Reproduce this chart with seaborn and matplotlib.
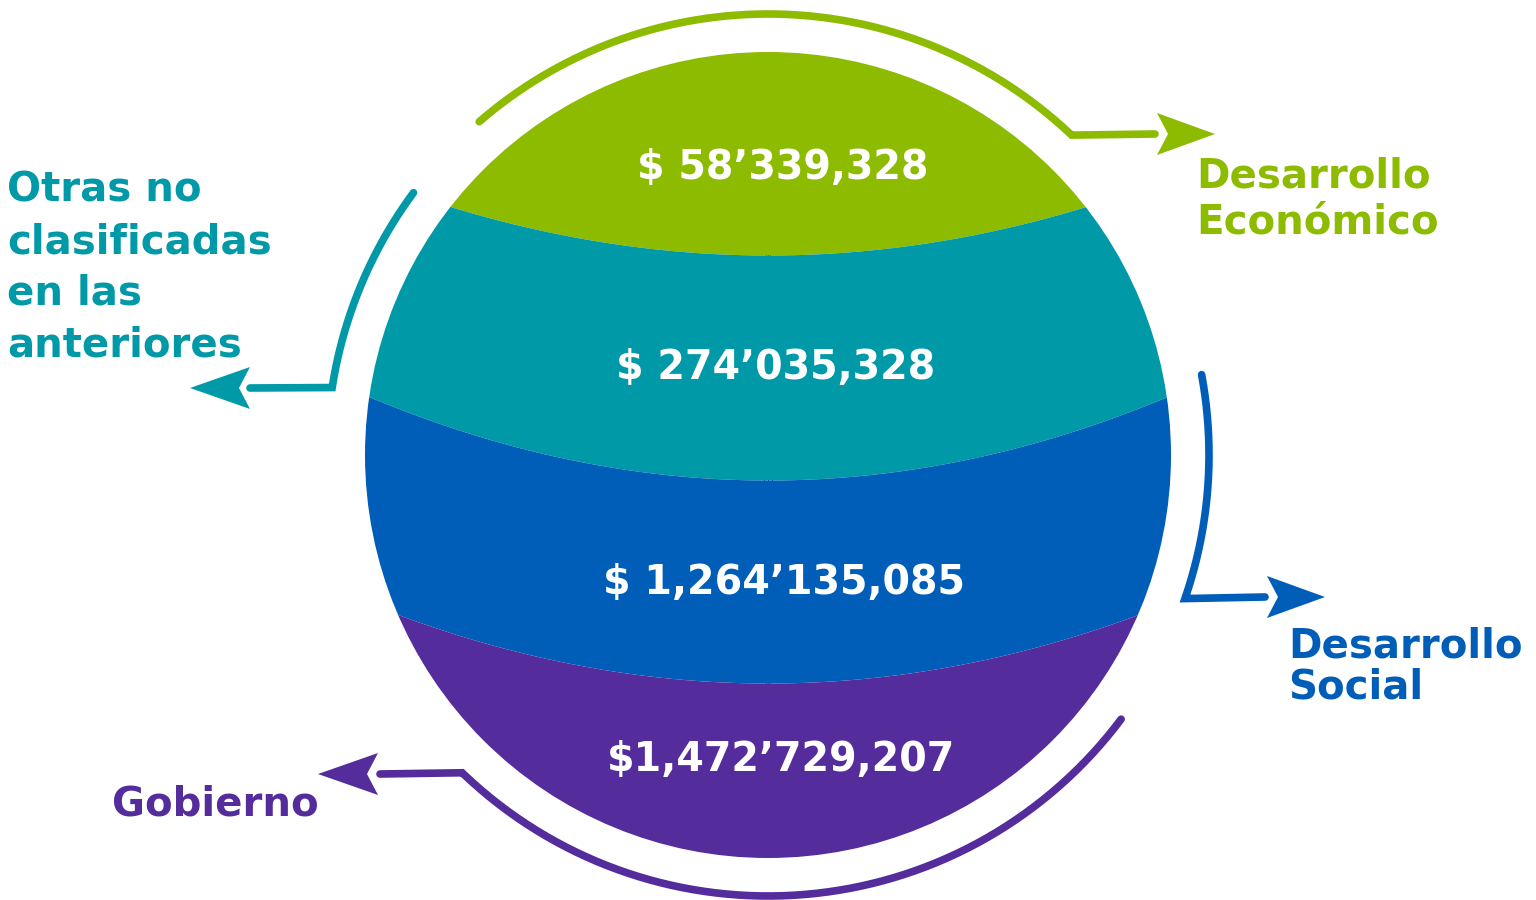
import numpy as np
import matplotlib.pyplot as plt
import seaborn as sns
from matplotlib.patches import Circle

# data (top band first)
categories = ["Desarrollo\nEconómico", "Otras no\nclasificadas\nen las\nanteriores",
              "Desarrollo\nSocial", "Gobierno"]
amounts = ["$ 58’339,328", "$ 274’035,328", "$ 1,264’135,085", "$1,472’729,207"]
band_colors = ["#8dbb00", "#0099a8", "#005eb8", "#542c9c"]

sns.set_theme(style="white")
plt.rcParams['font.family'] = ['DejaVu Sans']

W, H = 1536, 900
CX, CY, R = 768, 455, 403      # globe
RA = 441                      # outer arrow arcs

fig = plt.figure(figsize=(W / 100, H / 100), dpi=100)
ax = fig.add_axes([0, 0, 1, 1])
ax.set_xlim(0, W)
ax.set_ylim(H, 0)
ax.axis("off")

# band boundaries: (middle y, curvature)
bounds = [(255, 0.00048), (480, 0.000524), (683, 0.0005)]
xs = np.linspace(CX - R - 5, CX + R + 5, 600)
curves = [np.full_like(xs, CY - R - 10)]
curves += [m - k * (xs - CX) ** 2 for m, k in bounds]
curves += [np.full_like(xs, CY + R + 10)]

clip = Circle((CX, CY), R, transform=ax.transData)
for i, col in enumerate(band_colors):
    poly = ax.fill_between(xs, curves[i], curves[i + 1], color=col, lw=0)
    poly.set_clip_path(clip)

# value labels
val_pos = [(783, 168), (776, 368), (784, 583), (781, 760)]
for txt, (x, y) in zip(amounts, val_pos):
    ax.text(x, y, txt, color="white", fontsize=28.5, fontweight="bold",
            ha="center", va="center")


def arc(a0, a1):
    t = np.radians(np.linspace(a0, a1, 200))
    return CX + RA * np.cos(t), CY - RA * np.sin(t)


def arrow_head(back, tip, y, col, half=21, notch=11):
    d = np.sign(tip - back)
    ax.fill([back, tip, back, back + d * notch], [y - half, y, y + half, y],
            color=col, lw=0)


lw = 5.5
# arc angles, elbow line end, arrow back, arrow tip, y
specs = [
    (130.9, 46.5, 1155, 1157, 1215, 134),
    (143.5, 171.2, 250, 250, 190, 388),
    (10.5, -19.0, 1265, 1267, 1325, 597),
    (-36.8, -133.9, 380, 378, 318, 774),
]
for (a0, a1, lend, back, tip, y), col in zip(specs, band_colors):
    x, yy = arc(a0, a1)
    x = np.append(x, lend)
    yy = np.append(yy, y)
    ax.plot(x, yy, color=col, lw=lw, solid_capstyle="round", solid_joinstyle="miter")
    arrow_head(back, tip, y, col)

lab_pos = [(1196, 156, 1.2), (7, 171, 1.37), (1288, 626, 1.04), (112, 785, 1.0)]
for txt, (x, y, ls), col in zip(categories, lab_pos, band_colors):
    ax.text(x, y, txt, color=col, fontsize=29, fontweight="bold",
            ha="left", va="top", linespacing=ls)

fig.savefig("out.png", dpi=100, facecolor="white")
